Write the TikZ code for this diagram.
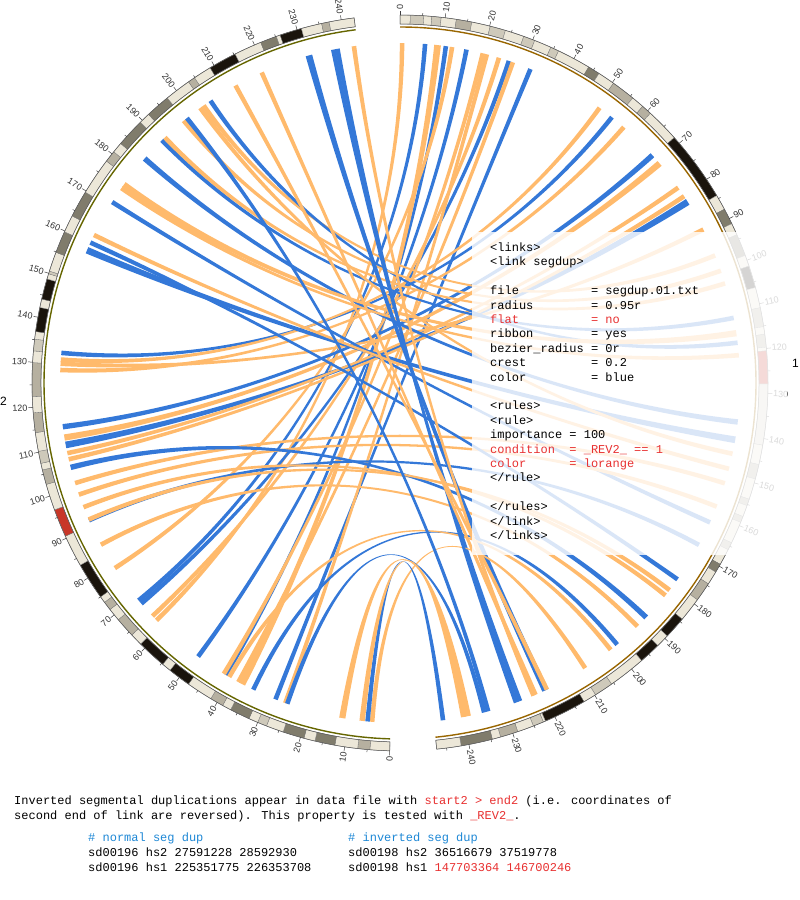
\documentclass[tikz,border=0pt]{standalone}
\usepackage{fontspec}
\setmainfont{Liberation Sans}
\newfontfamily\codefont{Liberation Mono}
\definecolor{lb}{RGB}{52,120,216}
\definecolor{lo}{RGB}{255,186,108}
\definecolor{cgneg}{RGB}{236,231,216}
\definecolor{cgpa}{RGB}{206,201,186}
\definecolor{cgpb}{RGB}{182,176,160}
\definecolor{cgpc}{RGB}{128,124,108}
\definecolor{cgpd}{RGB}{26,20,12}
\definecolor{cacen}{RGB}{200,55,40}
\definecolor{cgvar}{RGB}{218,214,202}
\definecolor{chrA}{RGB}{153,102,0}
\definecolor{chrB}{RGB}{102,102,0}
\definecolor{codered}{RGB}{232,48,48}
\definecolor{codeblue}{RGB}{30,136,214}
\tikzset{
  bandln/.style={draw=black!55, line width=0.3pt},
  tickln/.style={draw=black!75, line width=0.5pt},
  ticklab/.style={font=\fontsize{9}{10}\selectfont, text=black!80, inner sep=0.3pt},
  codetxt/.style={font=\codefont\fontsize{12}{14}\selectfont, anchor=base west, inner sep=0pt},
  chrlab/.style={font=\fontsize{12}{14}\selectfont, inner sep=0pt}
}
\begin{document}
\begin{tikzpicture}[x=1pt,y=1pt]
\useasboundingbox (0,0) rectangle (800,-900);
\fill[white] (0,0) rectangle (800,-900);
\begin{scope}[shift={(400,-383)}]
% ---------------- links (ribbons): hs1 position / hs2 position / width / colour ----------------
\foreach \p/\q/\w/\c in {
6/69/1.1/lb, 0.5/62.6/1.1/lo, 11/41.5/1.1/lb, 9/37/1.6/lo, 16/49.4/1.1/lb,
12.5/78.6/1.1/lo, 26.5/68/1.1/lb, 20/42/1.1/lo, 32/28.2/1.1/lb, 21/25.7/1.1/lo,
24/64/1.1/lo, 27.5/38/1.1/lo,
54.7/132.6/1.1/lb, 51/131/1.1/lo, 68/114.9/1.3/lb, 58.4/128.5/1.1/lo, 82/110.5/1.6/lb,
70.6/112.3/1.5/lo, 77.9/108.5/1.1/lo, 80.4/107/1.1/lo, 89.6/130/1.1/lo,
112/190/1.1/lb, 96.4/203/1.1/lo, 118/205/1.1/lb, 100.3/197/1.1/lo, 137/184/1.3/lb,
103.5/191/1.1/lo, 141.3/158/1.6/lb, 115.7/176/1.5/lo, 162/171/1.1/lb, 121/175/1.1/lo,
168/91.6/1.1/lb, 144.7/202/1.1/lo, 148.4/162/1.1/lo, 152/101.1/1.1/lo, 157.9/98.2/1.1/lo,
177.7/160/1.1/lb, 180.9/91.8/1.1/lo, 189.5/105/1.3/lb, 182.5/95/1.1/lo, 199/34/1.1/lb,
192.5/85.1/1.1/lo, 219.4/231/1.6/lb, 201/40.5/1.1/lo, 226/237/1.1/lb, 208.5/4.4/1.1/lo,
227/238/1.1/lb, 219/212/1.1/lo, 234/198/1.1/lb, 222/219/1.1/lo, 235/25.2/1.1/lb,
222.5/242/1.1/lo, 245/5.5/1.1/lb, 239/11.6/1.5/lo, 240/6.8/1.3/lo}{
  \pgfmathsetmacro\aA{90-0.705*(\p-\w/2)}
  \pgfmathsetmacro\aB{90-0.705*(\p+\w/2)}
  \pgfmathsetmacro\bA{-91.6-0.705*(\q-\w/2)}
  \pgfmathsetmacro\bB{-91.6-0.705*(\q+\w/2)}
  \fill[fill=\c] (\aA:340pt) .. controls (\aA:126pt) and (\bB:126pt) .. (\bB:340pt)
    arc[start angle=\bB, end angle=\bA, radius=340pt]
    .. controls (\bA:126pt) and (\aB:126pt) .. (\aB:340pt)
    arc[start angle=\aB, end angle=\aA, radius=340pt] -- cycle;
}
% ---------------- chromosome colour rings ----------------
\draw[chrA, line width=1.4pt] (90:356pt) arc[start angle=90, end angle=-84.28, radius=356pt];
\draw[chrB, line width=1.4pt] (-91.6:356pt) arc[start angle=-91.6, end angle=-262.84, radius=356pt];
% ---------------- hs1 bands ----------------
\foreach \s/\e/\c in {0/2.3/cgneg, 2.3/5.3/cgpa, 5.3/7.1/cgneg, 7.1/9.2/cgpa, 9.2/12.6/cgneg,
12.6/16.1/cgpb, 16.1/20.3/cgneg, 20.3/23.8/cgpa, 23.8/28.1/cgneg, 28.1/30.7/cgpa,
30.7/34.6/cgneg, 34.6/36.5/cgpa, 36.5/44.1/cgneg, 44.1/46.8/cgpc, 46.8/50.7/cgneg,
50.7/56.1/cgpb, 56.1/59.0/cgneg, 59.0/61.3/cgpb, 61.3/68.9/cgneg, 68.9/84.9/cgpd,
84.9/88.4/cgneg, 88.4/92.0/cgpc, 92.0/94.7/cgneg, 94.7/99.7/cgpc, 99.7/102.2/cgneg,
102.2/107.2/cgpd, 107.2/111.8/cgneg, 111.8/116.1/cgpb, 116.1/117.8/cgneg, 117.8/120.7/cgpb,
120.7/121.5/cgneg, 121.5/128.9/cacen, 128.9/142.6/cgvar, 142.6/147.0/cgneg, 147.0/150.3/cgpb,
150.3/155.0/cgneg, 155.0/156.5/cgpb, 156.5/159.1/cgneg, 159.1/160.5/cgpb, 160.5/165.5/cgneg,
165.5/167.2/cgpb, 167.2/170.9/cgneg, 170.9/172.9/cgpc, 172.9/176.0/cgneg, 176.0/180.3/cgpb,
180.3/185.8/cgneg, 185.8/190.8/cgpd, 190.8/193.8/cgneg, 193.8/198.7/cgpd, 198.7/207.2/cgneg,
207.2/211.5/cgpa, 211.5/214.5/cgneg, 214.5/224.1/cgpd, 224.1/224.6/cgneg, 224.6/227.0/cgpa,
227.0/230.7/cgneg, 230.7/234.7/cgpb, 234.7/236.6/cgneg, 236.6/243.7/cgpc, 243.7/249.2/cgneg}{
  \pgfmathsetmacro\ta{90-0.705*0.992*\s}
  \pgfmathsetmacro\tb{90-0.705*0.992*\e}
  \filldraw[fill=\c, bandln] (\ta:368pt) arc[start angle=\ta, end angle=\tb, radius=368pt]
    -- (\tb:359pt) arc[start angle=\tb, end angle=\ta, radius=359pt] -- cycle;
}
% ---------------- hs2 bands ----------------
\foreach \s/\e/\c in {0/4.4/cgneg, 4.4/7.1/cgpb, 7.1/12.2/cgneg, 12.2/16.7/cgpc, 16.7/19.2/cgneg,
19.2/24.0/cgpc, 24.0/27.9/cgneg, 27.9/30.0/cgpa, 30.0/32.1/cgneg, 32.1/36.6/cgpc,
36.6/38.6/cgneg, 38.6/41.6/cgpb, 41.6/47.5/cgneg, 47.5/52.6/cgpd, 52.6/54.7/cgneg,
54.7/61.3/cgpd, 61.3/64.1/cgneg, 64.1/68.6/cgpb, 68.6/71.5/cgneg, 71.5/73.5/cgpb,
73.5/75.0/cgneg, 75.0/83.3/cgpd, 83.3/90.5/cgneg, 90.5/96.8/cacen, 96.8/102.7/cgneg,
102.7/106.0/cgpb, 106.0/107.5/cgneg, 107.5/110.2/cgpa, 110.2/114.4/cgneg, 114.4/118.8/cgpb,
118.8/122.4/cgneg, 122.4/129.9/cgpb, 129.9/132.5/cgneg, 132.5/135.1/cgpa, 135.1/136.8/cgneg,
136.8/142.2/cgpd, 142.2/144.1/cgneg, 144.1/148.7/cgpd, 148.7/149.9/cgneg, 149.9/150.5/cgpa,
150.5/154.9/cgneg, 154.9/159.8/cgpc, 159.8/163.7/cgneg, 163.7/169.7/cgpc, 169.7/178.0/cgneg,
178.0/180.6/cgpb, 180.6/183.0/cgneg, 183.0/189.4/cgpc, 189.4/191.9/cgneg, 191.9/197.4/cgpc,
197.4/203.3/cgneg, 203.3/204.9/cgpb, 204.9/209.0/cgneg, 209.0/215.3/cgpd, 215.3/221.5/cgneg,
221.5/225.2/cgpc, 225.2/226.1/cgneg, 226.1/231.0/cgpd, 231.0/235.6/cgneg, 235.6/237.3/cgpb,
237.3/242.9/cgneg}{
  \pgfmathsetmacro\ta{-91.6-0.705*\s}
  \pgfmathsetmacro\tb{-91.6-0.705*\e}
  \filldraw[fill=\c, bandln] (\ta:368pt) arc[start angle=\ta, end angle=\tb, radius=368pt]
    -- (\tb:359pt) arc[start angle=\tb, end angle=\ta, radius=359pt] -- cycle;
}
% outlines
\draw[black!65, line width=0.5pt] (90:368pt) arc[start angle=90, end angle=-84.28, radius=368pt]
  -- (-84.28:359pt) arc[start angle=-84.28, end angle=90, radius=359pt] -- cycle;
\draw[black!65, line width=0.5pt] (-91.6:368pt) arc[start angle=-91.6, end angle=-262.84, radius=368pt]
  -- (-262.84:359pt) arc[start angle=-262.84, end angle=-91.6, radius=359pt] -- cycle;
% ---------------- ticks ----------------
\foreach \m in {0,10,...,240}{
  \pgfmathsetmacro\t{90-0.705*\m}
  \draw[tickln] (\t:368pt) -- (\t:372.5pt);
  \node[ticklab, rotate=\t, anchor=west] at (\t:373pt) {\m};
  \pgfmathsetmacro\u{-91.6-0.705*\m}
  \draw[tickln] (\u:368pt) -- (\u:372.5pt);
  \node[ticklab, rotate=\u+180, anchor=east] at (\u:373pt) {\m};
}
\foreach \m in {5,15,...,245}{
  \pgfmathsetmacro\t{90-0.705*\m}
  \draw[tickln] (\t:368pt) -- (\t:370.5pt);
}
\foreach \m in {5,15,...,235}{
  \pgfmathsetmacro\u{-91.6-0.705*\m}
  \draw[tickln] (\u:368pt) -- (\u:370.5pt);
}
\node[chrlab] (c1) at (2.9:396pt) {1};
\node[chrlab] (c2) at (-177.3:397pt) {2};
\end{scope}
% ---------------- translucent text panel ----------------
\fill[white, fill opacity=0.82] (472,-232) rectangle (787,-555);
\node[codetxt] (l0) at (490,-251.5) {<links>};
\node[codetxt] (l1) at (490,-265.9) {<link segdup>};
\node[codetxt] (l3) at (490,-294.7) {file};
\node[codetxt] (r3) at (590.8,-294.7) {= segdup.01.txt};
\node[codetxt] (l4) at (490,-309.1) {radius};
\node[codetxt] (r4) at (590.8,-309.1) {= 0.95r};
\node[codetxt, text=codered] (l5) at (490,-323.5) {flat};
\node[codetxt, text=codered] (r5) at (590.8,-323.5) {= no};
\node[codetxt] (l6) at (490,-337.9) {ribbon};
\node[codetxt] (r6) at (590.8,-337.9) {= yes};
\node[codetxt] (l7) at (490,-352.3) {bezier\_radius};
\node[codetxt] (r7) at (590.8,-352.3) {= 0r};
\node[codetxt] (l8) at (490,-366.7) {crest};
\node[codetxt] (r8) at (590.8,-366.7) {= 0.2};
\node[codetxt] (l9) at (490,-381.1) {color};
\node[codetxt] (r9) at (590.8,-381.1) {= blue};
\node[codetxt] (l11) at (490,-409.9) {<rules>};
\node[codetxt] (l12) at (490,-424.3) {<rule>};
\node[codetxt] (l13) at (490,-438.7) {importance};
\node[codetxt] (r13) at (569.2,-438.7) {= 100};
\node[codetxt, text=codered] (l14) at (490,-453.1) {condition};
\node[codetxt, text=codered] (r14) at (569.2,-453.1) {= \_REV2\_ == 1};
\node[codetxt, text=codered] (l15) at (490,-467.5) {color};
\node[codetxt, text=codered] (r15) at (569.2,-467.5) {= lorange};
\node[codetxt] (l16) at (490,-481.9) {</rule>};
\node[codetxt] (l18) at (490,-510.7) {</rules>};
\node[codetxt] (l19) at (490,-525.1) {</link>};
\node[codetxt] (l20) at (490,-539.5) {</links>};
% ---------------- caption text ----------------
\node[codetxt] (t1) at (14,-804) {Inverted segmental duplications appear in data file with \textcolor{codered}{start2 > end2} (i.e. coordinates of};
\node[codetxt] (t2) at (14,-819) {second end of link are reversed). This property is tested with \textcolor{codered}{\_REV2\_}.};
\node[codetxt, text=codeblue] (n0) at (88,-841) {\# normal seg dup};
\node[codetxt] (n1) at (88,-856) {sd00196 hs2 27591228 28592930};
\node[codetxt] (n2) at (88,-871) {sd00196 hs1 225351775 226353708};
\node[codetxt, text=codeblue] (i0) at (348,-841) {\# inverted seg dup};
\node[codetxt] (i1) at (348,-856) {sd00198 hs2 36516679 37519778};
\node[codetxt] (i2) at (348,-871) {sd00198 hs1 \textcolor{codered}{147703364 146700246}};
\end{tikzpicture}
\end{document}
